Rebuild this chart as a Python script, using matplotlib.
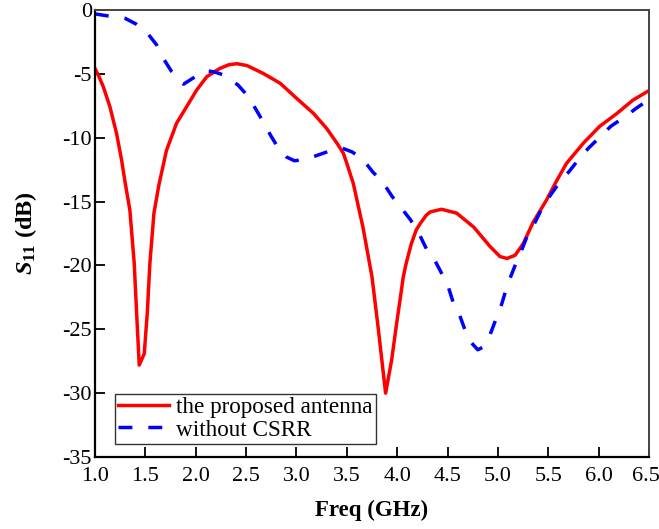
import matplotlib
matplotlib.use("Agg")
import matplotlib.pyplot as plt
from matplotlib.transforms import ScaledTranslation

plt.rcParams['font.family'] = ['Liberation Serif', 'DejaVu Serif']
plt.rcParams['mathtext.fontset'] = 'custom'
plt.rcParams['mathtext.rm'] = 'Liberation Serif:bold'
plt.rcParams['mathtext.it'] = 'Liberation Serif:bold:italic'
plt.rcParams['mathtext.bf'] = 'Liberation Serif:bold'

# the proposed antenna
freq_red = [1.0, 1.04, 1.083, 1.149, 1.215, 1.265, 1.30, 1.347, 1.39, 1.414, 1.44, 1.49, 1.52, 1.546,
            1.586, 1.635, 1.71, 1.81, 1.91, 2.01, 2.11, 2.24, 2.33, 2.41, 2.51, 2.67, 2.84, 3.0,
            3.17, 3.30, 3.40, 3.465, 3.50, 3.565, 3.66, 3.75, 3.81, 3.885, 3.945, 3.995, 4.03,
            4.06, 4.09, 4.14, 4.19, 4.23, 4.29, 4.33, 4.44, 4.59, 4.76, 4.92, 5.02, 5.09, 5.17,
            5.25, 5.35, 5.48, 5.58, 5.68, 5.85, 6.01, 6.18, 6.34, 6.5]
s11_red = [-4.57, -5.2, -6.0, -7.57, -9.66, -11.75, -13.5, -15.66, -19.8, -23.7, -27.8, -26.9, -23.7, -19.8,
           -15.9, -13.7, -11.0, -8.87, -7.57, -6.26, -5.22, -4.57, -4.28, -4.2, -4.35, -4.96, -5.74, -6.9,
           -8.1, -9.27, -10.4, -11.2, -12.0, -13.6, -17.0, -20.9, -24.8, -30.0, -27.4, -24.5, -22.6,
           -20.9, -19.8, -18.3, -17.2, -16.7, -16.05, -15.8, -15.6, -15.9, -17.0, -18.5, -19.3, -19.45, -19.2,
           -18.3, -16.6, -14.9, -13.4, -12.0, -10.4, -9.1, -8.1, -7.05, -6.3]

# without CSRR
freq_blue = [1.0, 1.08, 1.30, 1.41, 1.51, 1.61, 1.68, 1.76, 1.88, 2.0, 2.1, 2.18, 2.28, 2.42,
             2.51, 2.6, 2.67, 2.75, 2.82, 2.9, 2.98, 3.09, 3.27, 3.38, 3.45, 3.55, 3.65, 3.76,
             3.85, 3.95, 4.03, 4.13, 4.21, 4.29, 4.36, 4.44, 4.50, 4.56, 4.62, 4.68, 4.73, 4.80,
             4.85, 4.92, 4.99, 5.03, 5.08, 5.12, 5.19, 5.24, 5.30, 5.37, 5.45, 5.52, 5.62, 5.70,
             5.81, 5.90, 6.03, 6.12, 6.27, 6.37, 6.5]
s11_blue = [-0.3, -0.4, -0.65, -1.1, -1.7, -2.7, -3.8, -4.8, -5.8, -5.2, -4.75, -4.83, -5.09, -5.87,
            -6.66, -7.8, -8.75, -9.9, -10.8, -11.5, -11.8, -11.7, -11.2, -10.9, -10.8, -11.1, -11.6, -12.7,
            -13.4, -14.6, -15.4, -16.4, -17.4, -18.7, -19.4, -20.6, -21.5, -23.0, -23.9, -25.2, -26.0, -26.6,
            -26.4, -25.45, -24.0, -23.2, -21.9, -21.0, -19.6, -18.7, -17.5, -16.6, -15.3, -14.5, -13.4, -12.7,
            -11.6, -10.8, -9.8, -9.1, -8.3, -7.7, -7.0]

xticks = [1.0, 1.5, 2.0, 2.5, 3.0, 3.5, 4.0, 4.5, 5.0, 5.5, 6.0, 6.5]
yticks = [0, -5, -10, -15, -20, -25, -30, -35]

fig = plt.figure(figsize=(6.59, 5.29), dpi=100)
ax = fig.add_axes([0.144, 0.136, 0.841, 0.845])

ax.plot(freq_red, s11_red, color='#ff0000', lw=2.5, label='the proposed antenna')
ax.plot(freq_blue, s11_blue, color='#0000ff', lw=2.5, linestyle=(0, (4.0, 4.6)), label='without CSRR')

ax.set_xlim(1.0, 6.5)
ax.set_ylim(-35, 0)
ax.set_xticks(xticks)
ax.set_xticklabels([f'{t:.1f}' for t in xticks])
ax.set_yticks(yticks)
ax.set_yticklabels([str(t) for t in yticks])
ax.tick_params(direction='in', length=7, width=1.3, labelsize=16, top=False, right=False)
ax.tick_params(axis='x', pad=7)
ax.tick_params(axis='y', pad=2)

# keep the last x tick label inside the canvas
last = ax.get_xticklabels()[-1]
last.set_transform(last.get_transform() + ScaledTranslation(-3 / 100, 0, fig.dpi_scale_trans))

for s in ['left', 'bottom']:
    ax.spines[s].set_linewidth(1.6)
    ax.spines[s].set_color('black')
for s in ['top', 'right']:
    ax.spines[s].set_linewidth(1.4)
    ax.spines[s].set_color('#444444')

ax.set_xlabel('Freq (GHz)', fontsize=16.5, fontweight='bold', labelpad=10)
ax.set_ylabel(r'$S_{11}$ (dB)', fontsize=17.5, fontweight='bold', labelpad=17)

leg = ax.legend(loc='lower left', bbox_to_anchor=(0.036, 0.029), fontsize=16.7, frameon=True,
                fancybox=False, edgecolor='black', handlelength=2.2, borderpad=0.15,
                labelspacing=0.05, handletextpad=0.3, borderaxespad=0)
leg.get_frame().set_linewidth(1.0)

fig.savefig('out.png', dpi=100)
